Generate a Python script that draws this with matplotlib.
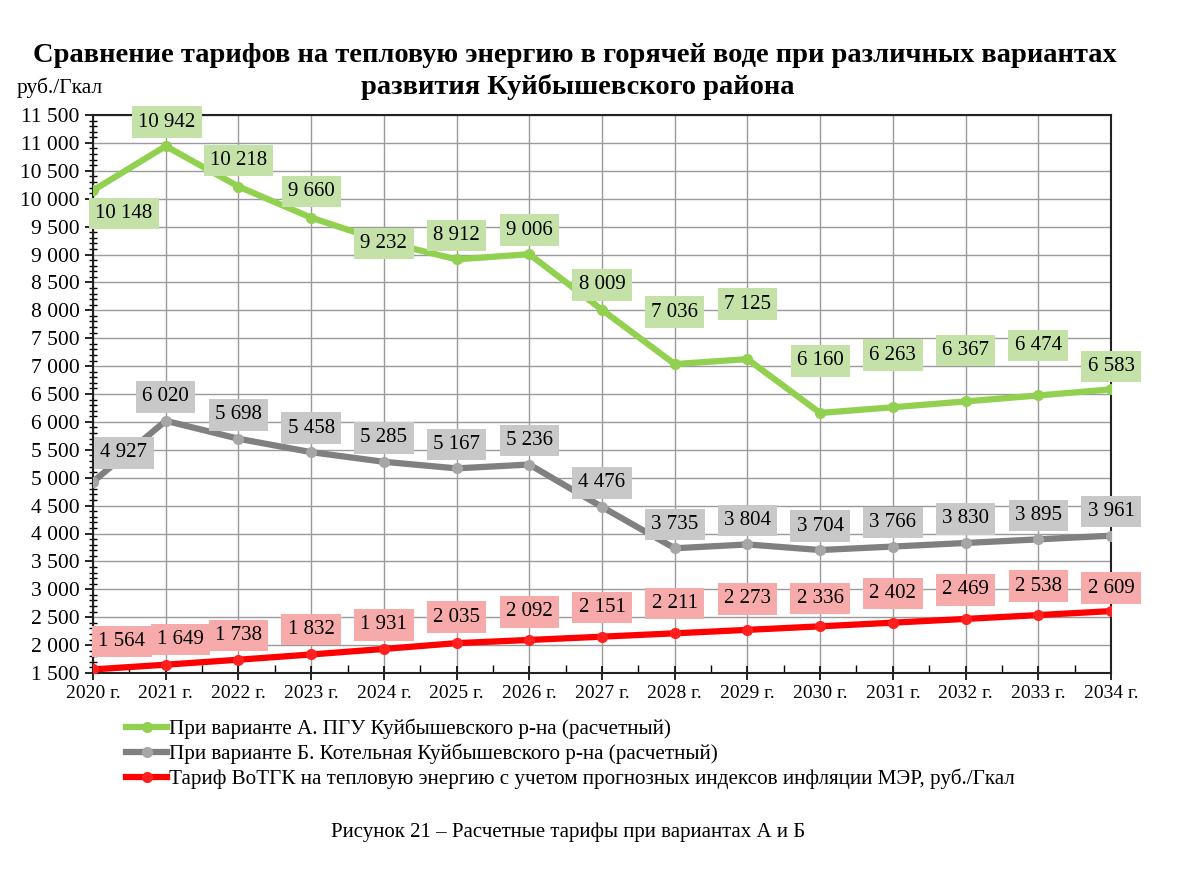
import matplotlib
matplotlib.use("Agg")
import matplotlib.pyplot as plt
from matplotlib.ticker import MultipleLocator, FuncFormatter
from matplotlib.lines import Line2D

plt.rcParams['font.family'] = ['Liberation Serif', 'DejaVu Serif']

years = [2020, 2021, 2022, 2023, 2024, 2025, 2026, 2027, 2028, 2029, 2030, 2031, 2032, 2033, 2034]
year_labels = [f"{y} г." for y in years]
variant_a = [10148, 10942, 10218, 9660, 9232, 8912, 9006, 8009, 7036, 7125, 6160, 6263, 6367, 6474, 6583]
variant_b = [4927, 6020, 5698, 5458, 5285, 5167, 5236, 4476, 3735, 3804, 3704, 3766, 3830, 3895, 3961]
votgk = [1564, 1649, 1738, 1832, 1931, 2035, 2092, 2151, 2211, 2273, 2336, 2402, 2469, 2538, 2609]

name_a = "При варианте А. ПГУ Куйбышевского р-на (расчетный)"
name_b = "При варианте Б. Котельная Куйбышевского р-на (расчетный)"
name_c = "Тариф ВоТГК на тепловую энергию с учетом прогнозных индексов инфляции МЭР, руб./Гкал"

title1 = "Сравнение тарифов на тепловую энергию в горячей воде при различных вариантах"
title2 = "развития Куйбышевского района"
caption = "Рисунок 21 – Расчетные тарифы при вариантах А и Б"

W, H = 1192, 874
fig = plt.figure(figsize=(W / 100, H / 100), dpi=100)
ax = fig.add_axes([93 / W, (H - 673) / H, (1111 - 93) / W, (673 - 115) / H])

x = list(range(len(years)))

c_a, c_b, c_c = '#92d050', '#808080', '#ff0000'
m_a, m_b, m_c = '#92d050', '#a6a6a6', '#ff2020'
box_a, box_b, box_c = '#c4e2a8', '#c8c8c8', '#f6aaaa'

ax.plot(x, variant_a, color=c_a, lw=4.5, marker='o', ms=7, mfc=m_a, mec=m_a, zorder=4, solid_capstyle='round')
ax.plot(x, variant_b, color=c_b, lw=4.5, marker='o', ms=7, mfc=m_b, mec=m_b, zorder=4, solid_capstyle='round')
ax.plot(x, votgk, color=c_c, lw=4.5, marker='o', ms=7, mfc=m_c, mec=m_c, zorder=4, solid_capstyle='round')

def fmt(v):
    return f"{int(v):,}".replace(",", " ")

# pixel offsets for labels
off_a = [(31, -23), (1, 24), (0, 26), (0, 26), (0, -2), (0, 24), (0, 24), (0, 25),
         (0, 52), (0, 55), (0, 52), (0, 52), (0, 51), (0, 50), (0, 23)]
off_b = [(31, 29)] + [(0, 24)] * 14
off_c = [(29, 28), (15, 25), (0, 24), (0, 25), (0, 24), (0, 26), (0, 28), (0, 29),
         (0, 30), (0, 31), (0, 28), (0, 29), (0, 29), (0, 29), (0, 23)]

def labels(vals, offs, boxc):
    for xi, v, (dx, dy) in zip(x, vals, offs):
        ax.annotate(fmt(v), (xi, v), xytext=(dx, dy), textcoords='offset pixels',
                    ha='center', va='center', fontsize=15, color='black', zorder=5,
                    bbox=dict(boxstyle='square,pad=0.3', fc=boxc, ec='none'),
                    annotation_clip=False)

labels(variant_a, off_a, box_a)
labels(variant_b, off_b, box_b)
labels(votgk, off_c, box_c)

ax.set_xlim(0, len(years) - 1)
ax.set_ylim(1500, 11500)
ax.yaxis.set_major_locator(MultipleLocator(500))
ax.yaxis.set_minor_locator(MultipleLocator(100))
ax.yaxis.set_major_formatter(FuncFormatter(lambda v, p: fmt(v)))
ax.set_xticks(x)
ax.set_xticklabels(year_labels)
ax.xaxis.set_minor_locator(MultipleLocator(0.5))
ax.tick_params(axis='both', which='major', direction='out', length=6, width=1.2)
ax.tick_params(axis='y', which='major', labelsize=15.5)
ax.tick_params(axis='x', which='major', labelsize=14)
ax.tick_params(axis='y', which='minor', direction='inout', length=6, width=1)
ax.tick_params(axis='x', which='minor', direction='in', length=6, width=1)
ax.tick_params(axis='x', which='major', direction='inout', length=10, pad=4)
ax.grid(True, which='major', color='#9a9a9a', lw=1)
for s in ax.spines.values():
    s.set_color('#222222')
    s.set_linewidth(1.5)

fig.text(575 / W, 1 - 55 / H, title1, ha='center', va='center', fontsize=20.5, fontweight='bold')
fig.text(578 / W, 1 - 87 / H, title2, ha='center', va='center', fontsize=20.5, fontweight='bold')
fig.text(17 / W, 1 - 88 / H, "руб./Гкал", ha='left', va='center', fontsize=15.5)

handles = [
    Line2D([], [], color=c_a, lw=4.5, marker='o', ms=7, mfc=m_a, mec=m_a),
    Line2D([], [], color=c_b, lw=4.5, marker='o', ms=7, mfc=m_b, mec=m_b),
    Line2D([], [], color=c_c, lw=4.5, marker='o', ms=7, mfc=m_c, mec=m_c),
]
fig.legend(handles, [name_a, name_b, name_c], loc='upper left',
           bbox_to_anchor=(118 / W, 1 - 710 / H), frameon=False, fontsize=15.2,
           handlelength=1.9, handletextpad=0.1, labelspacing=0.22, borderaxespad=0)

fig.text(568 / W, 1 - 832 / H, caption, ha='center', va='center', fontsize=15)

fig.savefig("out.png", dpi=100, facecolor='white')
